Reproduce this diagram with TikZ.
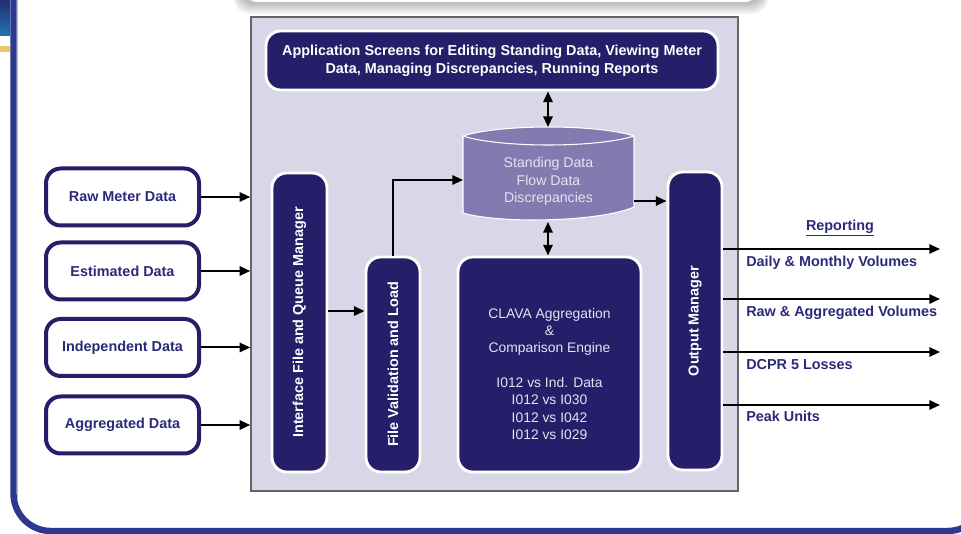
\documentclass[tikz,border=0pt]{standalone}
\usepackage{fontspec}
\setmainfont{Liberation Sans}
\usetikzlibrary{arrows.meta,calc}
\definecolor{navy}{RGB}{36,31,104}
\definecolor{lav}{RGB}{217,214,231}
\definecolor{dbfill}{RGB}{130,123,175}
\definecolor{txtnavy}{RGB}{43,42,122}
\definecolor{frameblue}{RGB}{45,57,142}
\definecolor{dbtext}{RGB}{228,226,242}
\tikzset{
  arr/.style={-{Triangle[length=8pt,width=7pt]}, line width=1.5pt, black},
  darr/.style={{Triangle[length=8pt,width=7pt]}-{Triangle[length=8pt,width=7pt]}, line width=1.5pt, black},
  navybox/.style={fill=navy, draw=white, line width=2.2pt, rounded corners=11pt, text=white,
    font=\fontsize{10.8}{13.5}\selectfont\bfseries, align=center, inner sep=0pt},
  inbox/.style={fill=white, draw=navy, line width=3pt, rounded corners=11pt, text=txtnavy,
    font=\fontsize{10.8}{13}\selectfont\bfseries, minimum width=114.75pt, minimum height=42.75pt, inner sep=0pt},
  outlbl/.style={anchor=west, text=txtnavy, font=\fontsize{10.8}{13}\selectfont\bfseries, inner sep=0pt},
  vtext/.style={text=white, font=\fontsize{10.8}{13}\selectfont\bfseries, rotate=90},
}
\begin{document}
\begin{tikzpicture}[x=0.75pt,y=-0.75pt]
\useasboundingbox (0,0) rectangle (961,534);
% background decorations
\begin{scope}
\clip (0,0) rectangle (961,534);
\shade[top color=frameblue!80!black, bottom color=frameblue!70!cyan] (0,0) rectangle (10,36);
\fill[brown!60!yellow!70!white] (0,46) rectangle (10,52);
\foreach \i in {1,...,8} {
  \fill[black, opacity=0.035, rounded corners=12pt] (240-\i*0.8,-30) rectangle (762+\i*0.8,3+\i*1.4);
}
\fill[white, rounded corners=10pt] (244,-30) rectangle (758,2);
\draw[frameblue, line width=4.8pt, rounded corners=28pt] (13.5,-60) rectangle (985,531);
\draw[frameblue!35!white, line width=0.8pt] (17.5,0) -- (17.5,500);
\end{scope}
% main box
\node[fill=lav, draw=black!60, line width=1.1pt, minimum width=365.25pt, minimum height=355.5pt, inner sep=0pt] (main) at (494.5,254) {};
% application screens
\node[navybox, minimum width=339pt, minimum height=44.25pt] (app) at (492,60.5)
  {Application Screens for Editing Standing Data, Viewing Meter\\Data, Managing Discrepancies, Running Reports};
% cylinder
\fill[dbfill] (463,136) .. controls (500,124) and (597,124) .. (634,136) -- (634,207)
  .. controls (600,222) and (500,224) .. (463,213) -- cycle;
\draw[white, line width=0.8pt] (463,136) .. controls (500,124) and (597,124) .. (634,136) -- (634,207)
  .. controls (600,222) and (500,224) .. (463,213) -- cycle;
\draw[white, line width=0.8pt] (463,136) .. controls (500,148) and (597,148) .. (634,136);
\node[text=dbtext, font=\fontsize{10.6}{13.1}\selectfont, align=center, inner sep=0pt] (db) at (548.5,181.5)
  {Standing Data\\Flow Data\\Discrepancies};
\coordinate (dbtop) at (548,127);
\coordinate (dbbot) at (548,222);
\coordinate (dbin) at (463,180);
\coordinate (dbout) at (634,201);
% vertical boxes
\node[navybox, minimum width=41.25pt, minimum height=224.25pt] (iface) at (299.5,322.5) {};
\node[vtext] at (iface.center) {Interface File and Queue Manager};
\node[navybox, minimum width=40.5pt, minimum height=161.25pt] (fvl) at (393,364.5) {};
\node[vtext] at (fvl.center) {File Validation and Load};
\node[navybox, minimum width=137.25pt, minimum height=161.25pt] (clava) at (549.5,364.5) {};
\node[text=dbtext, font=\fontsize{10.4}{13}\selectfont, align=center, inner sep=0pt] (clavatxt) at (549.5,374)
  {CLAVA Aggregation\\\&\\Comparison Engine\\[13pt]I012 vs Ind. Data\\I012 vs I030\\I012 vs I042\\I012 vs I029};
\node[navybox, minimum width=40.5pt, minimum height=223.5pt] (outm) at (695,321) {};
\node[vtext] at (outm.center) {Output Manager};
% input boxes
\node[inbox] (raw) at (122.5,197) {Raw Meter Data};
\node[inbox] (est) at (122.5,271) {Estimated Data};
\node[inbox] (ind) at (122.5,347.5) {Independent Data};
\node[inbox] (agg) at (122.5,425) {Aggregated Data};
\foreach \n in {raw,est,ind,agg} {
  \draw[arr] (\n.east) -- (\n.east -| main.west);
}
% internal connectors
\draw[darr] (dbtop |- app.south) -- (dbtop);
\draw[darr] (dbbot) -- (dbbot |- clava.north);
\draw[arr] ([yshift=8.6pt]iface.east) coordinate (ia) -- (ia -| fvl.west);
\draw[line width=1.5pt] (fvl.north) -- (fvl.north |- dbin);
\draw[arr] ([xshift=-0.75pt]fvl.north |- dbin) -- (dbin);
\draw[arr] (dbout) -- (dbout -| outm.west);
% reporting
\node[text=txtnavy, font=\fontsize{10.8}{13}\selectfont\bfseries, inner sep=0pt] (rep) at (840,228) {\underline{Reporting}};
\coordinate (r1) at (940,249);
\coordinate (r2) at (940,299);
\coordinate (r3) at (940,352);
\coordinate (r4) at (940,405);
\foreach \r in {r1,r2,r3,r4} {
  \draw[arr] (outm.east |- \r) -- (\r);
}
\node[outlbl] (l1) at (746,263) {Daily \& Monthly Volumes};
\node[outlbl] (l2) at (746,313) {Raw \& Aggregated Volumes};
\node[outlbl] (l3) at (746,365) {DCPR 5 Losses};
\node[outlbl] (l4) at (746,416) {Peak Units};
\end{tikzpicture}
\end{document}
